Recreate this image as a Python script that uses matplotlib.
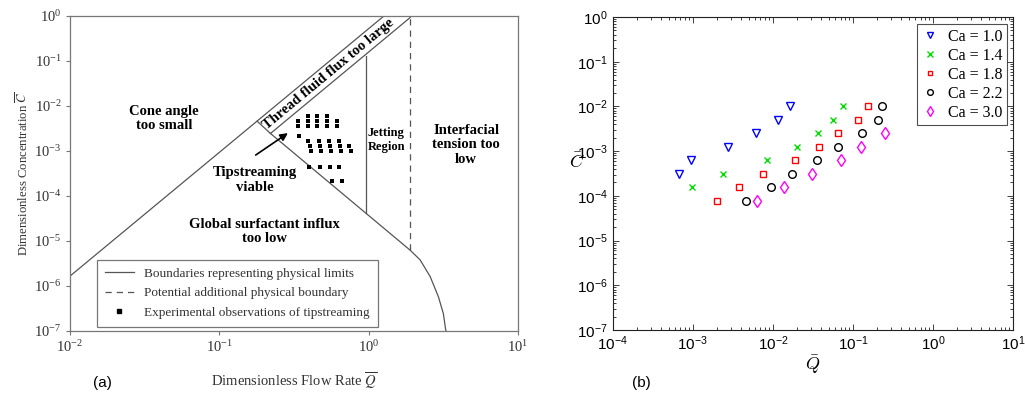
import numpy as np
import matplotlib.pyplot as plt
from matplotlib.lines import Line2D
from matplotlib.font_manager import FontProperties

# ---- panel (a): regime boundaries ----
cone_q = [0.01, 1.265]
cone_c = [1.66e-6, 1.0]
band_low_q = [0.22, 1.9]
band_low_c = [2.45e-3, 0.93]
band_end_q = [0.179, 0.22]
band_end_c = [4.6e-3, 2.45e-3]
influx_q = [0.22, 1.9, 2.21, 2.58, 2.93, 3.16, 3.28, 3.30]
influx_c = [2.45e-3, 6.2e-6, 3.8e-6, 1.62e-6, 5.75e-7, 2.45e-7, 1.05e-7, 1.0e-7]
jet_q = [0.955, 0.955]
jet_c = [4.2e-5, 0.13]
dash_q = [1.9, 1.9]
dash_c = [6.2e-6, 1.0]

# experimental observations of tipstreaming
obs_q = [0.335, 0.335,
         0.391, 0.391, 0.391,
         0.454, 0.454, 0.454,
         0.528, 0.528, 0.528,
         0.617, 0.617,
         0.344,
         0.394, 0.468, 0.546, 0.637,
         0.405, 0.472, 0.551, 0.643, 0.740,
         0.410, 0.478, 0.557, 0.650, 0.758,
         0.400, 0.470, 0.550, 0.635,
         0.572, 0.667]
obs_c = [4.6e-3, 3.6e-3,
         6.0e-3, 4.6e-3, 3.6e-3,
         6.0e-3, 4.6e-3, 3.6e-3,
         6.0e-3, 4.6e-3, 3.6e-3,
         4.6e-3, 3.6e-3,
         2.15e-3,
         1.69e-3, 1.69e-3, 1.69e-3, 1.69e-3,
         1.31e-3, 1.31e-3, 1.31e-3, 1.31e-3, 1.31e-3,
         1.02e-3, 1.02e-3, 1.02e-3, 1.02e-3, 1.02e-3,
         4.4e-4, 4.4e-4, 4.4e-4, 4.4e-4,
         2.15e-4, 2.15e-4]

# ---- panel (b): simulations per capillary number ----
c_levels = [1e-2 / 2 ** k for k in range(8)]
ca_labels = ["Ca = 1.0", "Ca = 1.4", "Ca = 1.8", "Ca = 2.2", "Ca = 3.0"]
q_ca10 = [0.0162, 0.01167, 6.15e-3, 2.72e-3, 9.5e-4, 6.8e-4]
q_ca14 = [0.0742, 0.0568, 0.0369, 0.0198, 8.36e-3, 2.38e-3, 9.7e-4]
q_ca18 = [0.155, 0.115, 0.0643, 0.0379, 0.0187, 7.45e-3, 3.73e-3, 2.02e-3]
q_ca22 = [0.230, 0.203, 0.129, 0.0655, 0.0351, 0.0175, 9.46e-3, 4.66e-3]
q_ca30 = [0.253, 0.1245, 0.0714, 0.0304, 0.01387, 6.26e-3]
c_ca10 = c_levels[:6]
c_ca14 = c_levels[:7]
c_ca18 = c_levels[:8]
c_ca22 = c_levels[:8]
c_ca30 = c_levels[2:8]

SERIF = "Liberation Serif"
SANS = "Liberation Sans"
LINE = "#555555"

fig = plt.figure(figsize=(10.25, 3.93), dpi=100)

# ================= panel (a) =================
ax = fig.add_axes([0.0683, 0.1578, 0.4371, 0.8015])
ax.set_xscale("log")
ax.set_yscale("log")
ax.set_xlim(1e-2, 1e1)
ax.set_ylim(1e-7, 1e0)

ax.plot(cone_q, cone_c, color=LINE, lw=0.9)
ax.plot(band_low_q, band_low_c, color=LINE, lw=0.9)
ax.plot(band_end_q, band_end_c, color=LINE, lw=0.9)
ax.plot(influx_q, influx_c, color=LINE, lw=0.9)
ax.plot(jet_q, jet_c, color=LINE, lw=0.9)
ax.plot(dash_q, dash_c, color=LINE, lw=0.9, ls=(0, (5, 4)))
ax.plot(obs_q, obs_c, ls="none", marker="s", ms=2.6, mew=0, color="black")

ax.annotate("", xy=(0.298, 2.7e-3), xytext=(0.169, 7.5e-4),
            arrowprops=dict(arrowstyle="-|>", color="black", lw=1.2,
                            mutation_scale=11))

bold = dict(family=SERIF, fontweight="bold", ha="center", va="center",
            fontsize=10.5, linespacing=1.15)
ax.text(0.0428, 5.3e-3, "Cone angle\ntoo small", **bold)
ax.text(0.172, 2.27e-4, "Tipstreaming\nviable", **bold)
ax.text(0.2, 1.61e-5, "Global surfactant influx\ntoo low", **bold)
ax.text(4.49, 1.36e-3, "Interfacial\ntension too\nlow", **bold)
ax.text(1.31, 1.75e-3, "Jetting\nRegion", family=SERIF, fontweight="bold",
        ha="center", va="center", fontsize=9, linespacing=1.3)
ax.text(0.54, 0.05, "Thread fluid flux too large", family=SERIF,
        fontweight="bold", ha="center", va="center", fontsize=10.5,
        rotation=39.7, rotation_mode="anchor")

ax.set_xticks([1e-2, 1e-1, 1e0, 1e1])
ax.set_yticks([10.0 ** k for k in range(-7, 1)])
ax.minorticks_off()
ax.tick_params(direction="out", length=3, width=0.8, color="#777777",
               labelsize=10.5, pad=3)
for lbl in ax.get_xticklabels() + ax.get_yticklabels():
    lbl.set_family(SERIF)
    lbl.set_color("#333333")
for sp in ax.spines.values():
    sp.set_color("#777777")
    sp.set_linewidth(0.9)

ax.set_xlabel(r"Dimensionless Flow Rate $\overline{Q}$", family=SERIF,
              fontsize=10.5, math_fontfamily="stix", color="#333333",
              labelpad=11)
ax.set_ylabel(r"Dimensionless Concentration $\overline{C}$", family=SERIF,
              fontsize=9.2, math_fontfamily="stix", color="#333333",
              labelpad=2)

handles = [Line2D([], [], color=LINE, lw=0.9),
           Line2D([], [], color=LINE, lw=0.9, ls=(0, (5, 4))),
           Line2D([], [], ls="none", marker="s", ms=3, color="black")]
leg = ax.legend(handles,
                ["Boundaries representing physical limits",
                 "Potential additional physical boundary",
                 "Experimental observations of tipstreaming"],
                loc="lower left", bbox_to_anchor=(0.06, 0.014),
                prop=FontProperties(family=SERIF, size=9.5),
                frameon=True, fancybox=False, edgecolor="#555555",
                handlelength=2.2, borderpad=0.6, labelspacing=0.55,
                borderaxespad=0.0)
leg.get_frame().set_linewidth(0.9)
for t in leg.get_texts():
    t.set_color("#333333")

fig.text(102 / 1025, 1 - 383 / 393, "(a)", family=SANS, fontsize=11,
         ha="center", va="center")

# ================= panel (b) =================
bx = fig.add_axes([0.5978, 0.1603, 0.3905, 0.7964])
bx.set_xscale("log")
bx.set_yscale("log")
bx.set_xlim(1e-4, 1e1)
bx.set_ylim(1e-7, 1e0)

mk = dict(ls="none", mfc="none", mew=1.0)
bx.plot(q_ca10, c_ca10, marker="v", color="#0000ff", label=ca_labels[0],
        ms=6, **mk)
bx.plot(q_ca14, c_ca14, marker="x", color="#00dd00", label=ca_labels[1],
        ms=5, **mk)
bx.plot(q_ca18, c_ca18, marker="s", color="#ff0000", label=ca_labels[2],
        ms=4.8, **mk)
bx.plot(q_ca22, c_ca22, marker="o", color="black", label=ca_labels[3],
        ms=5.5, **mk)
bx.plot(q_ca30, c_ca30, marker="d", color="#ff00ff", label=ca_labels[4],
        ms=6.5, **mk)

bx.set_xticks([10.0 ** k for k in range(-4, 2)])
bx.set_yticks([10.0 ** k for k in range(-7, 1)])
bx.tick_params(which="both", direction="in", top=True, right=True,
               width=0.6, color="#222222", labelsize=11)
bx.tick_params(which="major", length=4)
bx.tick_params(which="minor", length=2)
for lbl in bx.get_xticklabels() + bx.get_yticklabels():
    lbl.set_family(SANS)
for sp in bx.spines.values():
    sp.set_color("#222222")
    sp.set_linewidth(0.8)

bx.set_xlabel(r"$\bar{Q}$", fontsize=13, math_fontfamily="cm", labelpad=0)
fig.text(577 / 1025, 1 - 162 / 393, r"$\bar{C}$", fontsize=13,
         math_fontfamily="cm", ha="center", va="center")

leg2 = bx.legend(loc="upper right", bbox_to_anchor=(0.985, 0.977),
                 prop=FontProperties(family=SERIF, size=11.5),
                 frameon=True, fancybox=False, edgecolor="#222222",
                 handlelength=1.0, handletextpad=0.6, borderpad=0.3,
                 labelspacing=0.18, borderaxespad=0.0, markerscale=0.75)
leg2.get_frame().set_linewidth(0.8)

fig.text(641 / 1025, 1 - 383 / 393, "(b)", family=SANS, fontsize=11,
         ha="center", va="center")

fig.savefig("out.png", dpi=100)
